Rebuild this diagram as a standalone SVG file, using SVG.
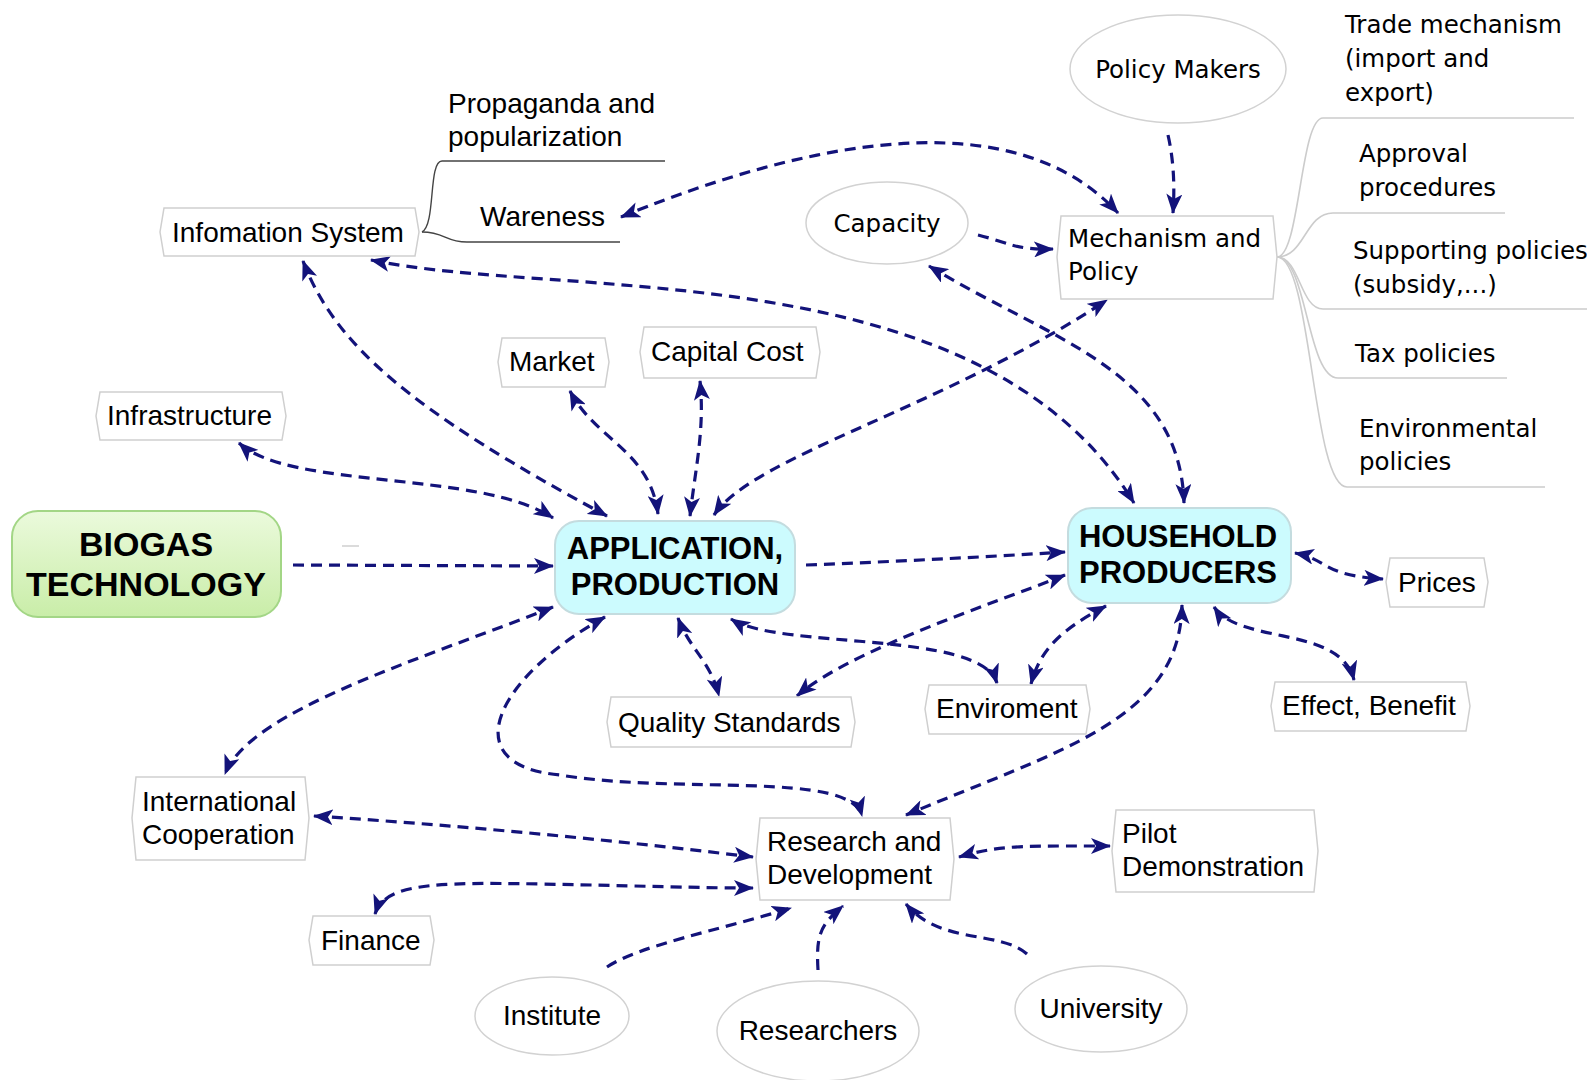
<svg xmlns="http://www.w3.org/2000/svg" width="1587" height="1080" viewBox="0 0 1587 1080">
<style>
.box{fill:#fff;stroke:#cfcfcf;stroke-width:1.5}
.ell{fill:#fff;stroke:#d2d2d2;stroke-width:1.5}
.t{font-family:"Liberation Sans",Arial,sans-serif;font-size:28px;fill:#000}
.tc{font-family:"Liberation Sans",Arial,sans-serif;font-size:28px;fill:#000;text-anchor:middle}
.tt{font-family:"DejaVu Sans",Verdana,sans-serif;font-size:24.5px;fill:#000}
.big{font-family:"Liberation Sans",Arial,sans-serif;font-weight:bold;fill:#000;text-anchor:middle}
.c{fill:none;stroke:#13137a;stroke-width:3.2;stroke-dasharray:11 7;marker-end:url(#ah)}
.c2{marker-start:url(#ah)}
.br{fill:none;stroke:#444;stroke-width:1.4}
.lb{fill:none;stroke:#cccccc;stroke-width:1.6}
</style>
<defs>
<marker id="ah" markerUnits="userSpaceOnUse" viewBox="0 0 20 16" refX="19" refY="8" markerWidth="20" markerHeight="16" orient="auto-start-reverse">
<path d="M0,0 L20,8 L0,16 L5,8 Z" fill="#13137a"/>
</marker>
<linearGradient id="gg" x1="0" y1="0" x2="0" y2="1">
<stop offset="0" stop-color="#ebfadc"/>
<stop offset="1" stop-color="#c9eda8"/>
</linearGradient>
</defs>
<rect width="1587" height="1080" fill="#fff"/>

<g id="connectors">
<path class="c" d="M293,565 L553,566"/>
<path class="c" d="M806,565 Q935,560 1065,552"/>
<path class="c c2" d="M303,261 C335,345 410,410 607,516"/>
<path class="c c2" d="M371,260 C560,300 980,250 1134,503"/>
<path class="c c2" d="M621,217 C760,160 1000,85 1118,213"/>
<path class="c" d="M1168,135 Q1176,170 1173,213"/>
<path class="c" d="M978,235 C1010,243 1015,250 1053,249"/>
<path class="c c2" d="M714,515 C755,455 940,410 1107,300"/>
<path class="c c2" d="M929,266 C1050,340 1180,370 1184,503"/>
<path class="c c2" d="M570,391 C595,440 650,450 658,514"/>
<path class="c c2" d="M700,381 C705,430 695,470 690,516"/>
<path class="c c2" d="M239,443 C290,490 480,470 553,518"/>
<path class="c c2" d="M553,607 C420,660 250,710 225,774"/>
<path class="c c2" d="M678,618 C690,650 710,660 719,696"/>
<path class="c c2" d="M731,619 C780,650 980,630 997,683"/>
<path class="c c2" d="M1065,575 C990,605 850,650 797,696"/>
<path class="c c2" d="M1106,606 C1060,630 1040,650 1031,684"/>
<path class="c c2" d="M1295,553 C1330,560 1320,575 1383,579"/>
<path class="c c2" d="M1214,607 C1240,645 1340,625 1354,680"/>
<path class="c c2" d="M1182,605 C1180,720 1060,750 906,815"/>
<path class="c c2" d="M605,617 C500,675 450,765 560,775 C680,795 850,770 862,816"/>
<path class="c c2" d="M314,816 Q530,830 753,857"/>
<path class="c c2" d="M375,914 C385,884 430,882 540,884 S700,888 753,888"/>
<path class="c c2" d="M959,857 C1000,845 1020,846 1110,846"/>
<path class="c" d="M607,967 C640,945 720,930 791,908"/>
<path class="c" d="M818,970 C816,935 820,925 843,906"/>
<path class="c" d="M1027,954 C1000,930 940,945 906,904"/>
<path class="br" d="M422,232 C436,225 428,161 442,161 H665"/>
<path class="br" d="M422,232 C445,232 445,242 467,242 H620"/>
<path class="lb" d="M1277,257 C1300,257 1300,118 1323,118 H1574"/>
<path class="lb" d="M1277,257 C1305,257 1305,213 1333,213 H1505"/>
<path class="lb" d="M1277,257 C1300,257 1300,309 1323,309 H1587"/>
<path class="lb" d="M1277,257 C1307,257 1307,378 1338,378 H1507"/>
<path class="lb" d="M1277,257 C1312,257 1312,487 1347,487 H1545"/>
<path d="M342,546 H359" stroke="#cfcfcf" stroke-width="1.5"/>
</g>

<g id="biogas">
<rect x="12" y="511" width="269" height="106" rx="26" fill="url(#gg)" stroke="#a3d686" stroke-width="2"/>
<text class="big" x="146" y="556" font-size="34">BIOGAS</text>
<text class="big" x="146" y="596" font-size="34">TECHNOLOGY</text>
</g>
<g id="application">
<rect x="555" y="521" width="240" height="93" rx="24" fill="#ccfbfe" stroke="#c4dcdf" stroke-width="2"/>
<text class="big" x="675" y="559" font-size="31">APPLICATION,</text>
<text class="big" x="675" y="595" font-size="31">PRODUCTION</text>
</g>
<g id="household">
<rect x="1068" y="508" width="223" height="95" rx="24" fill="#ccfbfe" stroke="#c4dcdf" stroke-width="2"/>
<text class="big" x="1178" y="547" font-size="31">HOUSEHOLD</text>
<text class="big" x="1178" y="583" font-size="31">PRODUCERS</text>
</g>
<g id="infomation-system">
<polygon class="box" points="164,208 415,208 419,232 415,256 164,256 160,232"/>
<text class="t" x="172" y="242">Infomation System</text>
</g>
<g id="propaganda">
<text class="t" x="448" y="113">Propaganda and</text>
<text class="t" x="448" y="146">popularization</text>
</g>
<g id="wareness">
<text class="t" x="480" y="226">Wareness</text>
</g>
<g id="policy-makers">
<ellipse class="ell" cx="1178" cy="69" rx="108" ry="54"/>
<text class="tt" x="1178" y="78" text-anchor="middle" font-size="26">Policy Makers</text>
</g>
<g id="capacity">
<ellipse class="ell" cx="887" cy="223" rx="81" ry="41"/>
<text class="tt" x="887" y="232" text-anchor="middle" font-size="25.5">Capacity</text>
</g>
<g id="mechanism">
<polygon class="box" points="1061,216 1273,216 1277,257 1273,299 1061,299 1057,257"/>
<text class="tt" x="1068" y="247" font-size="23.5">Mechanism and</text>
<text class="tt" x="1068" y="280" font-size="23.5">Policy</text>
</g>
<g id="trade">
<text class="tt" x="1345" y="33">Trade mechanism</text>
<text class="tt" x="1345" y="67">(import and</text>
<text class="tt" x="1345" y="101">export)</text>
</g>
<g id="approval">
<text class="tt" x="1359" y="162">Approval</text>
<text class="tt" x="1359" y="196">procedures</text>
</g>
<g id="supporting">
<text class="tt" x="1353" y="259">Supporting policies</text>
<text class="tt" x="1353" y="293">(subsidy,...)</text>
</g>
<g id="tax">
<text class="tt" x="1355" y="362">Tax policies</text>
</g>
<g id="environmental">
<text class="tt" x="1359" y="437">Environmental</text>
<text class="tt" x="1359" y="470">policies</text>
</g>
<g id="market">
<polygon class="box" points="502,338 605,338 609,362 605,387 502,387 498,362"/>
<text class="t" x="509" y="371">Market</text>
</g>
<g id="capital-cost">
<polygon class="box" points="644,327 816,327 820,352 816,378 644,378 640,352"/>
<text class="t" x="651" y="361">Capital Cost</text>
</g>
<g id="infrastructure">
<polygon class="box" points="100,392 282,392 286,416 282,440 100,440 96,416"/>
<text class="t" x="107" y="425">Infrastructure</text>
</g>
<g id="quality-standards">
<polygon class="box" points="611,697 851,697 855,722 851,747 611,747 607,722"/>
<text class="t" x="618" y="732">Quality Standards</text>
</g>
<g id="enviroment">
<polygon class="box" points="929,685 1086,685 1090,709 1086,734 929,734 925,709"/>
<text class="t" x="936" y="718">Enviroment</text>
</g>
<g id="effect-benefit">
<polygon class="box" points="1275,682 1466,682 1470,706 1466,731 1275,731 1271,706"/>
<text class="t" x="1282" y="715">Effect, Benefit</text>
</g>
<g id="prices">
<polygon class="box" points="1390,558 1484,558 1488,582 1484,607 1390,607 1386,582"/>
<text class="t" x="1398" y="592">Prices</text>
</g>
<g id="international-cooperation">
<polygon class="box" points="136,777 305,777 309,818 305,860 136,860 132,818"/>
<text class="t" x="142" y="811">International</text>
<text class="t" x="142" y="844">Cooperation</text>
</g>
<g id="research-development">
<polygon class="box" points="760,818 950,818 954,859 950,900 760,900 756,859"/>
<text class="t" x="767" y="851">Research and</text>
<text class="t" x="767" y="884">Development</text>
</g>
<g id="pilot-demonstration">
<polygon class="box" points="1116,810 1314,810 1318,851 1314,892 1116,892 1112,851"/>
<text class="t" x="1122" y="843">Pilot</text>
<text class="t" x="1122" y="876">Demonstration</text>
</g>
<g id="finance">
<polygon class="box" points="313,916 430,916 434,940 430,965 313,965 309,940"/>
<text class="t" x="321" y="950">Finance</text>
</g>
<g id="institute">
<ellipse class="ell" cx="552" cy="1016" rx="77" ry="39"/>
<text class="tc" x="552" y="1025">Institute</text>
</g>
<g id="researchers">
<ellipse class="ell" cx="818" cy="1031" rx="101" ry="50"/>
<text class="tc" x="818" y="1040">Researchers</text>
</g>
<g id="university">
<ellipse class="ell" cx="1101" cy="1009" rx="86" ry="43"/>
<text class="tc" x="1101" y="1018">University</text>
</g>
</svg>
